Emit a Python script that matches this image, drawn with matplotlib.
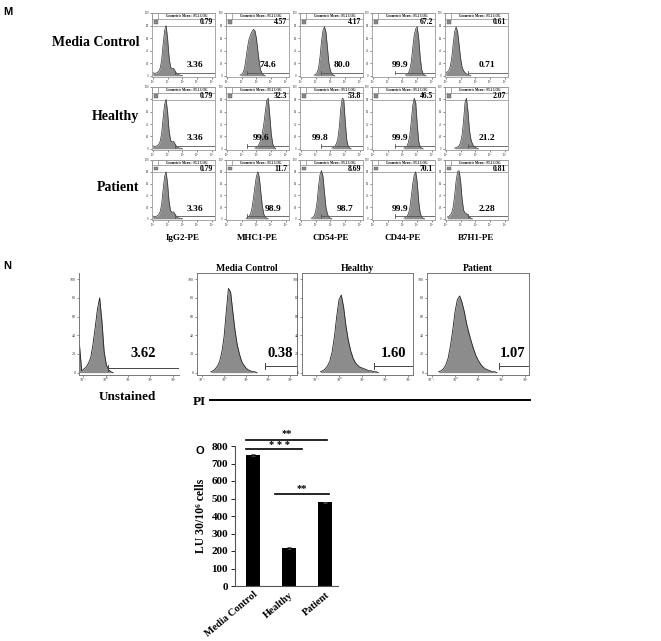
import numpy as np
import matplotlib.pyplot as plt

SERIF = ['Liberation Serif', 'DejaVu Serif']
plt.rcParams['font.family'] = SERIF

W, H = 661, 641

# ---------------- panel M : surface markers (histograms, % of max every 0.1 decade)
m_rows = ['Media Control', 'Healthy', 'Patient']
m_markers = ['IgG2-PE', 'MHC1-PE', 'CD54-PE', 'CD44-PE', 'B7H1-PE']
m_geo_mean = [['0.79', '4.57', '4.17', '67.2', '0.61'],
              ['0.79', '32.3', '53.8', '46.5', '2.07'],
              ['0.79', '11.7', '8.69', '70.1', '0.81']]
m_percent = [['3.36', '74.6', '80.0', '99.9', '0.71'],
             ['3.36', '99.6', '99.8', '99.9', '21.2'],
             ['3.36', '98.9', '98.7', '99.9', '2.28']]

igg2 = [5, 4, 4, 5, 7, 12, 25, 50, 72, 80, 60, 30, 14, 11, 12, 8, 4, 2, 1, 1, 0]
mhc1_media = [1, 2, 5, 12, 28, 45, 58, 65, 70, 74, 72, 60, 40, 20, 8, 3, 1, 0]
cd54_media = [1, 2, 5, 12, 30, 55, 72, 78, 70, 45, 20, 8, 3, 1, 0]
cd44_media = [1, 2, 4, 10, 22, 45, 65, 75, 78, 60, 30, 10, 3, 1, 0]
b7h1_media = [5, 6, 8, 14, 28, 50, 70, 78, 70, 50, 28, 14, 8, 5, 3, 2, 1, 0]
mhc1_healthy = [1, 2, 4, 8, 15, 25, 40, 60, 78, 82, 55, 25, 8, 2, 0]
cd54_healthy = [1, 2, 4, 8, 16, 35, 65, 82, 80, 45, 15, 4, 1, 0]
cd44_healthy = [1, 2, 4, 10, 22, 45, 70, 82, 75, 40, 12, 3, 1, 0]
b7h1_healthy = [1, 2, 3, 5, 10, 22, 45, 75, 82, 60, 30, 15, 8, 4, 2, 1, 0]
mhc1_patient = [1, 2, 4, 8, 18, 35, 55, 72, 80, 70, 45, 22, 8, 3, 1, 0]
cd54_patient = [1, 2, 5, 12, 28, 55, 75, 82, 72, 45, 20, 8, 3, 1, 0]
cd44_patient = [1, 2, 4, 8, 18, 38, 60, 75, 80, 62, 30, 10, 3, 1, 0]
b7h1_patient = [3, 4, 6, 10, 20, 40, 65, 80, 82, 65, 35, 15, 10, 9, 6, 3, 1, 0]

m_hists = [[igg2, mhc1_media, cd54_media, cd44_media, b7h1_media],
           [igg2, mhc1_healthy, cd54_healthy, cd44_healthy, b7h1_healthy],
           [igg2, mhc1_patient, cd54_patient, cd44_patient, b7h1_patient]]
m_start = [[0.0, 0.9, 0.9, 2.2, 0.0],
           [0.0, 1.9, 2.1, 2.1, 0.6],
           [0.0, 1.3, 0.7, 2.1, 0.1]]
m_gate = [1.5, 1.4, 1.4, 1.5, 1.5]

# ---------------- panel N : PI staining
n_titles = ['', 'Media Control', 'Healthy', 'Patient']
n_percent = ['3.62', '0.38', '1.60', '1.07']
unstained = [30, 2, 4, 6, 10, 16, 30, 48, 68, 80, 55, 22, 8, 3, 1, 0]
pi_media = [1, 2, 4, 7, 12, 22, 38, 65, 90, 86, 65, 45, 30, 20, 12, 8, 5, 3, 2, 1, 1, 0]
pi_healthy = [1, 2, 4, 7, 12, 22, 38, 60, 78, 83, 70, 50, 35, 24, 16, 11, 8, 6, 5, 4, 3,
              2, 2, 1, 1, 0]
pi_patient = [1, 2, 4, 8, 15, 28, 45, 65, 78, 82, 75, 65, 52, 42, 33, 25, 18, 13, 9, 6, 4,
              3, 2, 1, 1, 0]
n_hists = [unstained, pi_media, pi_healthy, pi_patient]
n_start = [-1.16, -0.6, -0.8, -0.7]
n_gate = [0.1, 1.85, 1.5, 1.9]

# ---------------- panel O : lytic units
o_groups = ['Media Control', 'Healthy', 'Patient']
o_values = [750, 217, 478]
o_errors = [6, 5, 3]

GREY = '#8c8c8c'
fig = plt.figure(figsize=(W / 100, H / 100), dpi=100)


def px_axes(x0, y0, x1, y1):
    return fig.add_axes([x0 / W, 1 - y1 / H, (x1 - x0) / W, (y1 - y0) / H])


def tiny_ticks(ax, xt, xl, fs):
    ax.set_yticks(range(0, 101, 20))
    ax.set_yticklabels([str(v) for v in range(0, 101, 20)], fontsize=fs)
    ax.set_xticks(xt)
    ax.set_xticklabels(xl, fontsize=fs)
    ax.tick_params(length=1.5, width=0.4, pad=0.8, colors='#333333')


# ---- M
fig.text(3 / W, 1 - 12 / H, 'M', family='Liberation Sans', weight='bold', fontsize=8, va='center')
m_col_x = [152, 226, 300, 372, 445]
m_row_y = [(13, 77), (87, 150), (160, 220)]
m_text_x = [[0.68, 0.67, 0.67, 0.44, 0.67],
            [0.68, 0.55, 0.32, 0.44, 0.67],
            [0.68, 0.75, 0.71, 0.44, 0.67]]
for r in range(3):
    y0, y1 = m_row_y[r]
    fig.text(139 / W, 1 - ((y0 + y1) / 2 - 2) / H, m_rows[r], ha='right', va='center',
             fontsize=10, weight='bold')
    for c in range(5):
        ax = px_axes(m_col_x[c], y0, m_col_x[c] + 63, y1)
        vals = np.array(m_hists[r][c], dtype=float)
        x = m_start[r][c] + 0.1 * np.arange(len(vals))
        ax.fill_between(x, vals, color=GREY, lw=0)
        ax.plot(x, vals, color='#333333', lw=0.5)
        g = m_gate[c]
        ax.plot([g, 4.2], [5, 5], color='#555555', lw=0.6)
        ax.plot([g, g], [2, 8], color='#555555', lw=0.6)
        ax.set_xlim(-0.05, 4.2)
        ax.set_ylim(-2, 100)
        tiny_ticks(ax, range(5), ['10⁰', '10¹', '10²', '10³', '10⁴'], 2.2)
        for s in ax.spines.values():
            s.set_color('#999999')
            s.set_linewidth(0.6)
        # header box
        ax.add_patch(plt.Rectangle((0, 0.80), 1, 0.20, transform=ax.transAxes,
                                   facecolor='white', edgecolor='#888888', lw=0.5))
        ax.plot([0, 1], [0.91, 0.91], transform=ax.transAxes, color='#888888', lw=0.5)
        ax.plot([0.09, 0.09], [0.91, 1.0], transform=ax.transAxes, color='#888888', lw=0.5)
        ax.add_patch(plt.Rectangle((0.03, 0.825), 0.06, 0.065, transform=ax.transAxes,
                                   facecolor='#888888', edgecolor='#555555', lw=0.3))
        ax.text(0.55, 0.955, 'Geometric Mean : FL2 LOG', transform=ax.transAxes,
                fontsize=2.4, ha='center', va='center', weight='bold')
        ax.text(0.97, 0.855, m_geo_mean[r][c], transform=ax.transAxes, fontsize=5.5,
                ha='right', va='center', weight='bold')
        ax.text(m_text_x[r][c], 0.19, m_percent[r][c], transform=ax.transAxes,
                fontsize=6.8, ha='center', va='center', weight='bold')
        if r == 2:
            fig.text((m_col_x[c] + 31) / W, 1 - 238 / H, m_markers[c], ha='center',
                     va='center', fontsize=6.5, weight='bold')

# ---- N
fig.text(3 / W, 1 - 266 / H, 'N', family='Liberation Sans', weight='bold', fontsize=8, va='center')
n_boxes = [(79, 273, 179, 375), (197, 273, 297, 375), (302, 273, 413, 375), (427, 273, 529, 375)]
n_xlim = [(-1.18, 3.27), (-1.23, 3.32), (-1.6, 3.2), (-1.2, 3.17)]
n_text_x = [1.67, 2.55, 2.35, 2.48]
for i in range(4):
    ax = px_axes(*n_boxes[i])
    vals = np.array(n_hists[i], dtype=float)
    x = n_start[i] + 0.1 * np.arange(len(vals))
    ax.fill_between(x, vals, color=GREY, lw=0)
    ax.plot(x, vals, color='#222222', lw=0.6)
    lo, hi = n_xlim[i]
    g = n_gate[i]
    gy = 5 if i == 0 else 7
    ax.plot([g, hi], [gy, gy], color='#444444', lw=0.7)
    ax.plot([g, g], [gy - 3, gy + 3], color='#444444', lw=0.7)
    if i > 0:
        ax.plot([hi - 0.02, hi - 0.02], [gy - 3, gy + 3], color='#444444', lw=0.7)
    ax.set_xlim(lo, hi)
    ax.set_ylim(-2.5, 106.5)
    tiny_ticks(ax, range(-1, 4), ['10⁻¹', '10⁰', '10¹', '10²', '10³'], 3)
    for s in ax.spines.values():
        s.set_color('#777777')
        s.set_linewidth(0.7)
    if i == 0:
        ax.spines['top'].set_visible(False)
        ax.spines['right'].set_visible(False)
    else:
        ax.set_title(n_titles[i], fontsize=7, weight='bold', pad=1.5)
    ax.text(n_text_x[i], 20, n_percent[i], fontsize=10.5, weight='bold', ha='center', va='center')

fig.text(127 / W, 1 - 397 / H, 'Unstained', ha='center', va='center', fontsize=9.5, weight='bold')
fig.text(199 / W, 1 - 402 / H, 'PI', ha='center', va='center', fontsize=9.5, weight='bold')
fig.add_artist(plt.Line2D([210 / W, 530 / W], [1 - 400 / H, 1 - 400 / H], color='black', lw=1.4))

# ---- O
fig.text(196 / W, 1 - 451 / H, 'O', family='Liberation Sans', weight='bold', fontsize=8, va='center')
ax = px_axes(235, 446, 338, 586)
pos = np.arange(len(o_groups))
ax.bar(pos, o_values, width=0.4, color='black', yerr=o_errors,
       error_kw=dict(ecolor='#444444', elinewidth=0.6, capsize=1.5, capthick=0.6))
ax.set_xlim(-0.5, 2.36)
ax.set_ylim(0, 800)
ax.set_yticks(range(0, 801, 100))
ax.set_yticklabels([str(v) for v in range(0, 801, 100)], fontsize=8, weight='bold')
ax.set_xticks(pos)
ax.set_xticklabels(o_groups, rotation=40, ha='right', rotation_mode='anchor',
                   fontsize=7.5, weight='bold')
ax.tick_params(axis='x', length=0, pad=3)
ax.tick_params(axis='y', length=3, width=0.6, pad=2)
ax.spines['top'].set_visible(False)
ax.spines['right'].set_visible(False)
ax.spines['left'].set_color('#555555')
ax.spines['bottom'].set_color('#555555')
ax.set_ylabel('LU 30/10⁶ cells', fontsize=8.5, weight='bold', labelpad=3)

# significance bars (data coords): x0, x1, line y, star y
for x0, x1, yv, ys, lab in [(-0.2, 2.05, 834, 870, '**'),
                            (-0.2, 1.36, 783, 800, '* * *'),
                            (0.6, 2.1, 526, 558, '**')]:
    ax.plot([x0, x1], [yv, yv], color='black', lw=1.2, clip_on=False)
    xs = (x0 + x1) / 2 + (0.15 if lab == '* * *' else 0)
    ax.text(xs, ys, lab, ha='center', va='center', fontsize=7.5, weight='bold',
            clip_on=False)

fig.savefig('out.png', dpi=100)
